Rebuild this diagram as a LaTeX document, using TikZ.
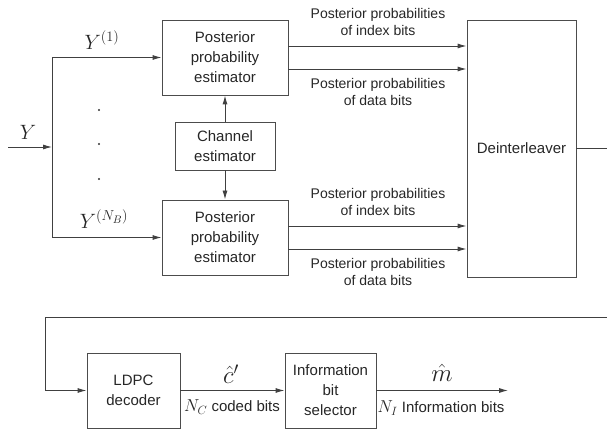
\documentclass[tikz,border=0pt]{standalone}
\usepackage{fontspec}
\setmainfont{Liberation Sans}
\usetikzlibrary{arrows.meta,calc}
\begin{document}
\begin{tikzpicture}[x=1pt,y=-1pt,
  line/.style={draw=black!75, line width=0.9pt},
  arr/.style={line, -{Latex[length=9pt,width=5pt]}},
  blk/.style={draw=black!70, line width=0.9pt, rectangle, align=center, inner sep=2pt,
     font=\fontsize{15}{20}\selectfont, text=black!85},
  lbl/.style={align=center, font=\fontsize{14}{17}\selectfont, text=black!85, inner sep=0pt},
  mlbl/.style={inner sep=0pt, font=\fontsize{21}{24}\selectfont, text=black!85},
  dotn/.style={circle, fill=black!80, inner sep=0pt, minimum size=2.2pt}]
\useasboundingbox (0,0) rectangle (607,430);
% blocks
\node[blk, minimum width=126pt, minimum height=75pt] (ppe1) at (225,57.5) {Posterior\\probability\\estimator};
\node[blk, minimum width=100pt, minimum height=48pt] (ch) at (225,146) {Channel\\estimator};
\node[blk, minimum width=126pt, minimum height=75pt] (ppe2) at (225,237.5) {Posterior\\probability\\estimator};
\node[blk, minimum width=109pt, minimum height=257pt] (dei) at (521.5,148.5) {Deinterleaver};
\node[blk, minimum width=93pt, minimum height=75pt] (ldpc) at (133.5,390.5) {LDPC\\decoder};
\node[blk, minimum width=91pt, minimum height=75pt] (ibs) at (330.5,390.5) {Information\\bit\\selector};
% input
\coordinate (yin) at (8,147);
\coordinate (split) at (52,147);
\coordinate (ytop) at (52,57.5);
\coordinate (ybot) at (52,237.5);
\draw[arr] (yin) -- (split);
\draw[line] (ytop) -- (ybot);
\draw[arr] (ytop) -- (ppe1.west);
\draw[arr] (ybot) -- (ppe2.west);
\node[mlbl] (ly) at (28,132) {$Y$};
\node[mlbl] (ly1) at (102,40) {$Y^{(1)}$};
\node[mlbl] (lyn) at (104,219) {$Y^{(N_B)}$};
\node[dotn] (d1) at (99,110) {};
\node[dotn] (d2) at (99,144) {};
\node[dotn] (d3) at (99,179) {};
% channel estimator
\draw[arr] (ch.north) -- (ppe1.south);
\draw[arr] (ch.south) -- (ppe2.north);
% to deinterleaver
\draw[arr] ([yshift=11.5pt]ppe1.east) -- ([yshift=11.5pt]ppe1.east -| dei.west);
\draw[arr] ([yshift=-11.5pt]ppe1.east) -- ([yshift=-11.5pt]ppe1.east -| dei.west);
\draw[arr] ([yshift=11.5pt]ppe2.east) -- ([yshift=11.5pt]ppe2.east -| dei.west);
\draw[arr] ([yshift=-11.5pt]ppe2.east) -- ([yshift=-11.5pt]ppe2.east -| dei.west);
\node[lbl] (l1) at (378,22) {Posterior probabilities\\of index bits};
\node[lbl] (l2) at (378,92) {Posterior probabilities\\of data bits};
\node[lbl] (l3) at (378,202) {Posterior probabilities\\of index bits};
\node[lbl] (l4) at (378,272) {Posterior probabilities\\of data bits};
% deinterleaver output and feedback
\coordinate (r1) at (607,148.5);
\coordinate (r2) at (607,317);
\coordinate (lft) at (45,317);
\draw[line] (dei.east) -- (r1);
\draw[arr] (r2) -- (lft) |- (ldpc.west);
% bottom chain
\coordinate (out) at (508,390.5);
\draw[arr] (ldpc.east) -- (ibs.west);
\draw[arr] (ibs.east) -- (out);
\node[mlbl, font=\fontsize{25}{26}\selectfont] (lc) at (231,374) {$\hat{c}'$};
\node[lbl, font=\fontsize{15}{18}\selectfont] (lnc) at (232,407) {{\fontsize{18}{18}\selectfont$N_C$} coded bits};
\node[mlbl, font=\fontsize{25}{26}\selectfont] (lm) at (442,373) {$\hat{m}$};
\node[lbl, font=\fontsize{15}{18}\selectfont] (lni) at (441,408) {{\fontsize{18}{18}\selectfont$N_I$} Information bits};
\end{tikzpicture}
\end{document}
